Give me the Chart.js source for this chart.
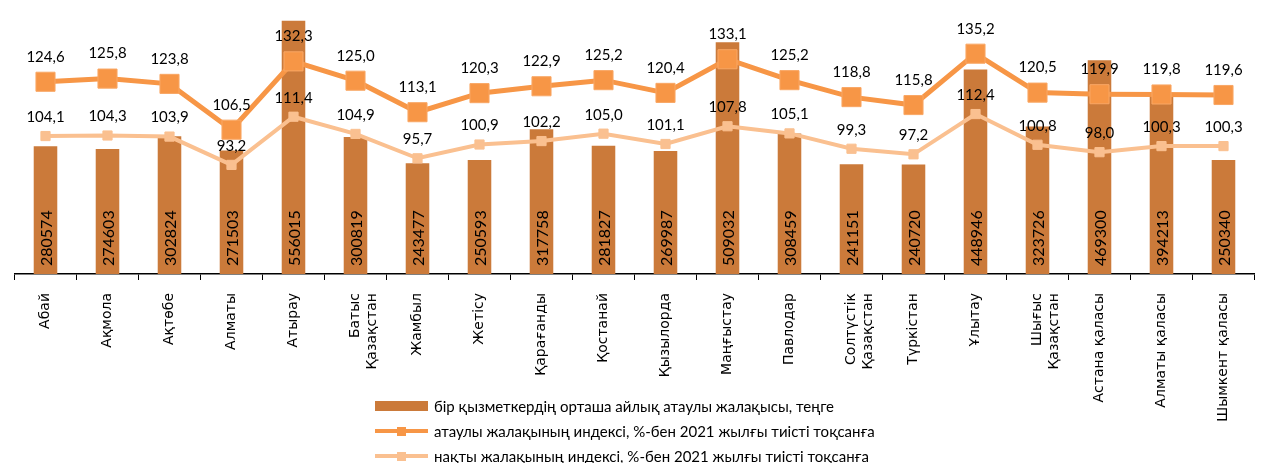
<!DOCTYPE html>
<html>
<head>
<meta charset="utf-8">
<script src="https://cdn.jsdelivr.net/npm/chart.js@4.4.0/dist/chart.umd.min.js"></script>
<style>
  body { margin: 0; background: #fff; }
  #wrap { position: relative; width: 1269px; height: 463px; overflow: hidden; }
  #legend { position: absolute; left: 375px; top: 393px; font-family: Lato, "Noto Sans", sans-serif; font-size: 15px; color: #000; }
  .item { display: flex; align-items: center; height: 25px; white-space: nowrap; }
  .sw { width: 53px; height: 14px; position: relative; margin-right: 6px; flex: none; }
</style>
</head>
<body>
<div id="wrap">
  <canvas id="chart" width="1269" height="463"></canvas>
  <div id="legend"></div>
</div>
<script>
// regions
var regions = ['Абай', 'Ақмола', 'Ақтөбе', 'Алматы', 'Атырау', ['Батыс', 'Қазақстан'], 'Жамбыл', 'Жетісу',
  'Қарағанды', 'Қостанай', 'Қызылорда', 'Маңғыстау', 'Павлодар', ['Солтүстік', 'Қазақстан'], 'Түркістан',
  'Ұлытау', ['Шығыс', 'Қазақстан'], 'Астана қаласы', 'Алматы қаласы', 'Шымкент қаласы'];

// average monthly nominal wage, tenge
var wages = [280574, 274603, 302824, 271503, 556015, 300819, 243477, 250593, 317758, 281827,
  269987, 509032, 308459, 241151, 240720, 448946, 323726, 469300, 394213, 250340];

// nominal wage index, %
var nominalIndex = [124.6, 125.8, 123.8, 106.5, 132.3, 125.0, 113.1, 120.3, 122.9, 125.2,
  120.4, 133.1, 125.2, 118.8, 115.8, 135.2, 120.5, 119.9, 119.8, 119.6];

// real wage index, %
var realIndex = [104.1, 104.3, 103.9, 93.2, 111.4, 104.9, 95.7, 100.9, 102.2, 105.0,
  101.1, 107.8, 105.1, 99.3, 97.2, 112.4, 100.8, 98.0, 100.3, 100.3];

var seriesNames = [
  'бір қызметкердің орташа айлық атаулы жалақысы, теңге',
  'атаулы жалақының индексі, %-бен 2021 жылғы тиісті тоқсанға',
  'нақты жалақының индексі, %-бен 2021 жылғы тиісті тоқсанға'
];

var barColor = '#CB7A3A';
var nomColor = '#F79646';
var realColor = '#FAC090';

var labelFont = 'Lato, "Noto Sans", sans-serif';

// draws the numbers on bars and above points
var valueLabels = {
  id: 'valueLabels',
  afterDatasetsDraw: function (chart) {
    var ctx = chart.ctx;
    ctx.save();
    ctx.fillStyle = '#000';
    chart.data.datasets.forEach(function (ds, i) {
      var meta = chart.getDatasetMeta(i);
      meta.data.forEach(function (el, j) {
        var v = ds.data[j];
        if (ds.type === 'bar') {
          ctx.save();
          ctx.translate(el.x + 1, chart.chartArea.bottom - 8);
          ctx.rotate(-Math.PI / 2);
          ctx.font = '16px ' + labelFont;
          ctx.textAlign = 'left';
          ctx.textBaseline = 'middle';
          ctx.fillText(String(v), 0, 0);
          ctx.restore();
        } else {
          ctx.font = '15px ' + labelFont;
          ctx.textAlign = 'center';
          ctx.textBaseline = 'middle';
          var off = i === 1 ? 25 : 19;
          ctx.fillText(v.toFixed(1).replace('.', ','), el.x, el.y - off);
        }
      });
    });
    ctx.restore();
  }
};

var ctx = document.getElementById('chart').getContext('2d');
var chart = new Chart(ctx, {
  data: {
    labels: regions,
    datasets: [{
      type: 'bar',
      label: seriesNames[0],
      data: wages,
      yAxisID: 'y',
      backgroundColor: barColor,
      barPercentage: 0.38,
      categoryPercentage: 1,
      order: 3
    }, {
      type: 'line',
      label: seriesNames[1],
      data: nominalIndex,
      yAxisID: 'y1',
      borderColor: nomColor,
      borderWidth: 5,
      pointStyle: 'rect',
      pointRadius: 13.5,
      pointBackgroundColor: nomColor,
      pointBorderColor: '#F9A765',
      pointBorderWidth: 1,
      order: 1
    }, {
      type: 'line',
      label: seriesNames[2],
      data: realIndex,
      yAxisID: 'y1',
      borderColor: realColor,
      borderWidth: 4,
      pointStyle: 'rect',
      pointRadius: 6.5,
      pointBackgroundColor: realColor,
      pointBorderColor: realColor,
      pointBorderWidth: 1,
      order: 2
    }]
  },
  options: {
    responsive: false,
    animation: false,
    layout: { padding: { left: 12, right: 0, top: 8, bottom: 0 } },
    plugins: {
      legend: { display: false },
      tooltip: { enabled: false }
    },
    scales: {
      x: {
        offset: true,
        grid: {
          offset: true,
          drawOnChartArea: false,
          drawTicks: true,
          tickLength: 6,
          color: '#000'
        },
        border: { color: '#000', width: 1.5 },
        ticks: {
          minRotation: 90,
          maxRotation: 90,
          autoSkip: false,
          padding: 13,
          color: '#000',
          font: { family: '"DejaVu Sans", sans-serif', size: 14 }
        },
        afterFit: function (scale) { scale.height = 189; }
      },
      y: { display: false, min: 0, max: 570000 },
      y1: { display: false, min: 52, max: 150 }
    }
  },
  plugins: [valueLabels]
});

// legend built from the series names
var legend = document.getElementById('legend');
var swatches = [
  '<div style="position:absolute;left:0;top:2px;width:53px;height:10px;background:' + barColor + '"></div>',
  '<div style="position:absolute;left:0;top:5px;width:53px;height:4px;background:' + nomColor + '"></div>' +
  '<div style="position:absolute;left:22px;top:3px;width:9px;height:9px;background:' + nomColor + '"></div>',
  '<div style="position:absolute;left:0;top:5px;width:53px;height:4px;background:' + realColor + '"></div>' +
  '<div style="position:absolute;left:22px;top:3px;width:9px;height:9px;background:' + realColor + '"></div>'
];
seriesNames.forEach(function (name, i) {
  var row = document.createElement('div');
  row.className = 'item';
  row.innerHTML = '<div class="sw">' + swatches[i] + '</div><span>' + name + '</span>';
  legend.appendChild(row);
});
</script>
</body>
</html>
